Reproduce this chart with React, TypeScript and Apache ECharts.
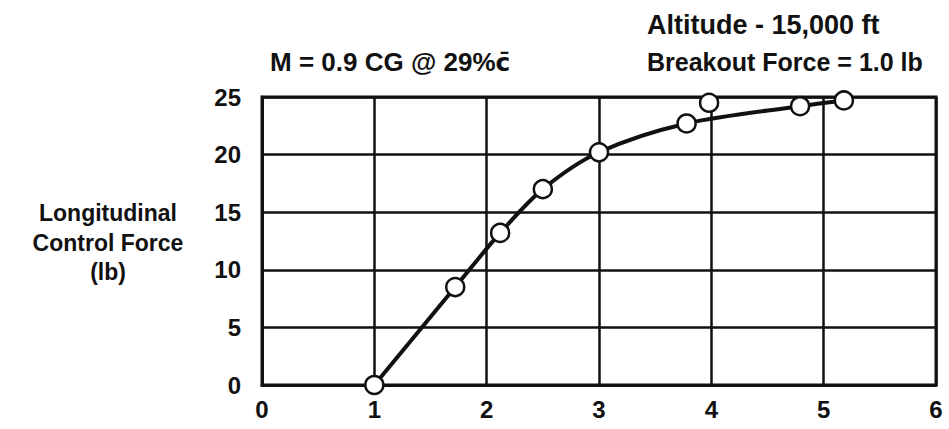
import React, { useEffect, useRef } from "react";
import * as echarts from "echarts";

const xTicks = [0, 1, 2, 3, 4, 5, 6];
const yTicks = [0, 5, 10, 15, 20, 25];
const measuredX = [1.0, 1.72, 2.12, 2.5, 3.0, 3.78, 3.98, 4.79, 5.18];
const measuredY = [0.0, 8.5, 13.2, 17.0, 20.2, 22.7, 24.5, 24.2, 24.7];
const fairedX = [1.0, 1.72, 2.12, 2.5, 3.0, 3.78, 4.79, 5.18];
const fairedY = [0.0, 8.5, 13.2, 17.0, 20.2, 22.7, 24.2, 24.7];
const yAxisTitle = ["Longitudinal", "Control Force", "(lb)"];
const noteLeft = "M = 0.9 CG @ 29%{c|c\u0304}";
const noteRight = ["Altitude - 15,000 ft", "Breakout Force = 1.0 lb"];

const FONT = "'Liberation Sans', Arial, sans-serif";

export default function App() {
  const ref = useRef<HTMLDivElement>(null);
  useEffect(() => {
    if (!ref.current) return;
    const chart = echarts.init(ref.current, null, { renderer: "svg" });
    const ts = { fontFamily: FONT, fontWeight: "bold", fill: "#111", verticalAlign: "middle" };
    const titleY = [213, 243, 272];
    chart.setOption({
      animation: false,
      backgroundColor: "#fff",
      grid: {
        left: 262,
        right: 13,
        top: 97,
        bottom: 44,
        show: true,
        borderColor: "#111",
        borderWidth: 3,
      },
      xAxis: {
        type: "value",
        min: xTicks[0],
        max: xTicks[xTicks.length - 1],
        interval: 1,
        axisLine: { show: true, lineStyle: { color: "#111", width: 3 } },
        axisTick: { show: false },
        splitLine: { show: true, lineStyle: { color: "#111", width: 2.5 } },
        axisLabel: { color: "#111", fontFamily: FONT, fontWeight: "bold", fontSize: 24, margin: 12 },
      },
      yAxis: {
        type: "value",
        min: yTicks[0],
        max: yTicks[yTicks.length - 1],
        interval: 5,
        axisLine: { show: true, lineStyle: { color: "#111", width: 3 } },
        axisTick: { show: false },
        splitLine: { show: true, lineStyle: { color: "#111", width: 2.5 } },
        axisLabel: { color: "#111", fontFamily: FONT, fontWeight: "bold", fontSize: 24, margin: 21 },
      },
      graphic: [
        ...yAxisTitle.map((t, i) => ({
          type: "text",
          x: 108,
          y: titleY[i],
          style: { ...ts, fontSize: 23, text: t, align: "center" },
        })),
        {
          type: "text",
          x: 270,
          y: 62,
          style: {
            ...ts,
            fontSize: 26,
            text: noteLeft,
            align: "left",
            rich: {
              c: { fontFamily: "'DejaVu Sans', sans-serif", fontWeight: "bold", fontSize: 25, fill: "#111" },
            },
          },
        },
        {
          type: "text",
          x: 647,
          y: 25,
          style: { ...ts, fontSize: 27, text: noteRight[0], align: "left" },
        },
        {
          type: "text",
          x: 647,
          y: 62,
          style: { ...ts, fontSize: 25, text: noteRight[1], align: "left" },
        },
      ],
      series: [
        {
          type: "line",
          data: fairedX.map((x, i) => [x, fairedY[i]]),
          smooth: 0.3,
          showSymbol: false,
          lineStyle: { color: "#111", width: 4 },
          z: 3,
        },
        {
          type: "scatter",
          data: measuredX.map((x, i) => [x, measuredY[i]]),
          symbol: "circle",
          symbolSize: 18,
          itemStyle: { color: "#fff", borderColor: "#111", borderWidth: 2.5, opacity: 1 },
          z: 4,
        },
      ],
    });
    return () => chart.dispose();
  }, []);
  return (
    <div
      ref={ref}
      style={{ position: "fixed", left: 0, top: 0, width: 949, height: 429 }}
    />
  );
}
